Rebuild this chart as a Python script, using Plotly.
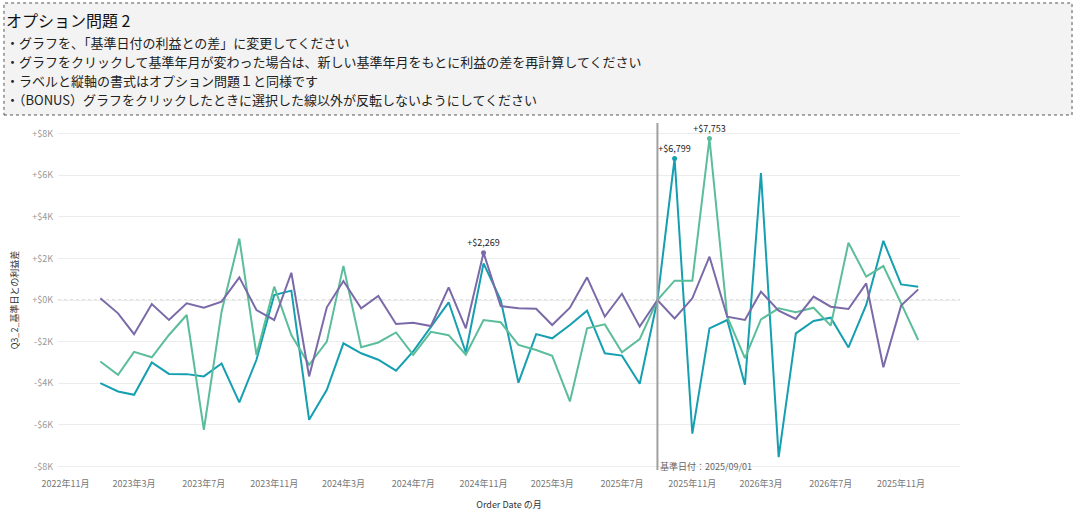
import plotly.graph_objects as go

# 月（2023年1月〜2026年12月）
months = [f"{y}-{m:02d}-01" for y in range(2023, 2027) for m in range(1, 13)]

# 基準日付との利益差（$）
teal = [-3990, -4390, -4550, -3000, -3550, -3560, -3670, -3050, -4920, -2870, 240, 450,
        -5750, -4310, -2080, -2560, -2870, -3390, -2470, -1310, -110, -2520, 1760, 0,
        -3970, -1640, -1840, -1200, -510, -2560, -2670, -4020, 0, 6799, -6420, -1360,
        -960, -4070, 6100, -7550, -1600, -1010, -850, -2280, -240, 2840, 750, 640]
green = [-2950, -3590, -2490, -2750, -1680, -720, -6230, -560, 2950, -2630, 640, -1680,
         -3110, -2000, 1640, -2270, -2040, -1560, -2630, -1530, -1690, -2630, -960, -1070,
         -2160, -2400, -2680, -4870, -1360, -1170, -2510, -1880, 0, 930, 930, 7753,
         -800, -2790, -930, -400, -590, -370, -1230, 2750, 1120, 1630, -160, -1920]
purple = [80, -640, -1640, -190, -960, -160, -370, -80, 1090, -480, -960, 1310,
          -3670, -350, 910, -400, 190, -1150, -1090, -1250, 610, -1360, 2269, -290,
          -400, -420, -1200, -370, 1090, -800, 300, -1280, 0, -890, 80, 2080,
          -800, -960, 400, -510, -910, 160, -320, -430, 800, -3230, -270, 510]

base_date = "2025-09-01"

x_tickvals = ["2022-11-01", "2023-03-01", "2023-07-01", "2023-11-01", "2024-03-01",
              "2024-07-01", "2024-11-01", "2025-03-01", "2025-07-01", "2025-11-01",
              "2026-03-01", "2026-07-01", "2026-11-01"]
x_ticktext = ["2022年11月", "2023年3月", "2023年7月", "2023年11月", "2024年3月",
              "2024年7月", "2024年11月", "2025年3月", "2025年7月", "2025年11月",
              "2026年3月", "2026年7月", "2025年11月"]
y_tickvals = [8000, 6000, 4000, 2000, 0, -2000, -4000, -6000, -8000]
y_ticktext = ["+$8K", "+$6K", "+$4K", "+$2K", "+$0K", "-$2K", "-$4K", "-$6K", "-$8K"]

title = "オプション問題 2"
bullets = [
    "・グラフを、「基準日付の利益との差」に変更してください",
    "・グラフをクリックして基準年月が変わった場合は、新しい基準年月をもとに利益の差を再計算してください",
    "・ラベルと縦軸の書式はオプション問題１と同様です",
    "・（BONUS）グラフをクリックしたときに選択した線以外が反転しないようにしてください",
]

FONT = "Noto Sans CJK JP"
series = [(teal, "#159fb0"), (green, "#5bbd99"), (purple, "#7a6aa8")]

fig = go.Figure()
for vals, col in series:
    fig.add_trace(go.Scatter(x=months, y=vals, mode="lines",
                             line=dict(color=col, width=2), showlegend=False))
# 各線の最大値にラベル
for vals, col in series:
    i = vals.index(max(vals))
    fig.add_trace(go.Scatter(x=[months[i]], y=[vals[i]], mode="markers+text",
                             marker=dict(color=col, size=5),
                             text=[f"+${vals[i]:,}"], textposition="top center",
                             textfont=dict(size=9, color="#222", family=FONT),
                             showlegend=False))

# 0ライン（点線）と基準日付の線
fig.add_shape(type="line", xref="paper", x0=0, x1=1, y0=0, y1=0,
              line=dict(color="#c4c4c4", width=1, dash="dot"), layer="below")
fig.add_shape(type="line", x0=base_date, x1=base_date, yref="paper", y0=0.02, y1=1,
              line=dict(color="#a0a0a0", width=2))
fig.add_annotation(x=base_date, y=-8000, text="基準日付：2025/09/01", showarrow=False,
                   xanchor="left", yanchor="middle", xshift=1,
                   font=dict(size=9, color="#666", family=FONT))

# 問題文ボックス
fig.add_shape(type="rect", xref="paper", yref="paper", x0=-0.0599, x1=1.1242,
              y0=1.0226, y1=1.339, fillcolor="#f3f3f3",
              line=dict(color="#555", width=1, dash="dot"), layer="below")
fig.add_annotation(xref="paper", yref="paper", x=-0.0554, y=1.291, text=title,
                   showarrow=False, xanchor="left", yanchor="middle", xshift=-4,
                   font=dict(size=16, color="#111", family=FONT))
for k, line in enumerate(bullets):
    fig.add_annotation(xref="paper", yref="paper", x=-0.0554, y=1.2288 - k * 0.0537,
                       text=line, showarrow=False, xanchor="left", yanchor="middle",
                       xshift=-4, font=dict(size=13, color="#222", family=FONT))

fig.update_layout(
    width=1080, height=529,
    margin=dict(l=58, r=120, t=123, b=52),
    paper_bgcolor="white", plot_bgcolor="white",
    font=dict(family=FONT),
    xaxis=dict(type="date", range=["2022-10-19", "2027-02-12"],
               tickvals=x_tickvals, ticktext=x_ticktext, showgrid=False,
               zeroline=False, showline=False,
               tickfont=dict(size=9, color="#777"),
               title=dict(text="Order Date の月", font=dict(size=9, color="#333"), standoff=12)),
    yaxis=dict(range=[-8500, 8500], tickvals=y_tickvals, ticktext=y_ticktext,
               gridcolor="#ececec", gridwidth=1, zeroline=False, showline=False,
               tickfont=dict(size=9, color="#999"), ticklabelstandoff=4,
               title=dict(text="Q3_2_基準日との利益差", font=dict(size=9, color="#333"), standoff=12)),
)

fig.write_html("out.html", config={"displayModeBar": False},
               post_script="document.body.style.margin='0';")
